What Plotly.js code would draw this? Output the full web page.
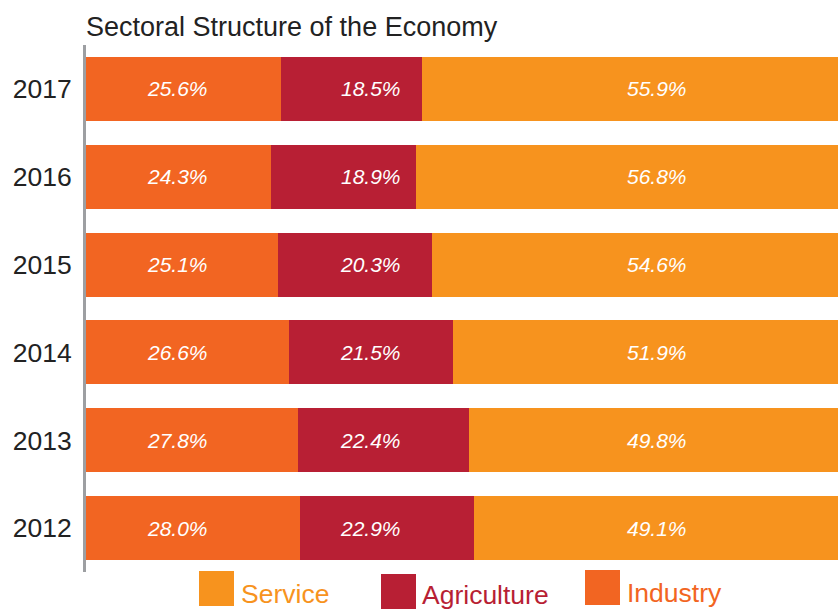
<!DOCTYPE html>
<html>
<head>
<meta charset="utf-8">
<script src="https://cdn.plot.ly/plotly-3.0.1.min.js"></script>
<style>html,body{margin:0;padding:0;background:#fff;}#chart{width:838px;height:609px;}</style>
</head>
<body>
<div id="chart"></div>
<script>
const years = ['2012', '2013', '2014', '2015', '2016', '2017'];
const industry = [28.0, 27.8, 26.6, 25.1, 24.3, 25.6];
const agriculture = [22.9, 22.4, 21.5, 20.3, 18.9, 18.5];
const service = [49.1, 49.8, 51.9, 54.6, 56.8, 55.9];
const seriesNames = ['Industry', 'Agriculture', 'Service'];
const legendOrder = ['Service', 'Agriculture', 'Industry'];
const chartTitle = 'Sectoral Structure of the Economy';

const colors = { Industry: '#F26522', Agriculture: '#B81F34', Service: '#F7931E' };
const values = { Industry: industry, Agriculture: agriculture, Service: service };
const labelX = { Industry: 12.0, Agriculture: 37.3, Service: 74.8 };
const FONT = '"Liberation Sans", Arial, Helvetica, sans-serif';

const traces = seriesNames.map(n => ({
  type: 'bar', orientation: 'h', name: n, y: years, x: values[n],
  marker: { color: colors[n] }, hoverinfo: 'skip', showlegend: false
}));

const annotations = [];
seriesNames.forEach(n => {
  values[n].forEach((v, i) => {
    annotations.push({
      x: labelX[n], y: i, xref: 'x', yref: 'y',
      text: '<i>' + v.toFixed(1) + '%</i>', showarrow: false,
      font: { family: FONT, size: 21, color: '#ffffff' },
      xanchor: 'center', yanchor: 'middle'
    });
  });
});

// manual legend (pixel positions converted to paper coords)
const L = 86, W = 752, T = 45, H = 527;
const px = p => (p - L) / W;
const py = p => (T + H - p) / H;
const legendPos = {
  Service: { sx: 199, sy: 571, ty: 594, tx: 239 },
  Agriculture: { sx: 381, sy: 574, ty: 595, tx: 420 },
  Industry: { sx: 585, sy: 570, ty: 593, tx: 625 }
};
const shapes = [];
legendOrder.forEach(n => {
  const p = legendPos[n];
  shapes.push({
    type: 'rect', xref: 'paper', yref: 'paper',
    x0: px(p.sx), x1: px(p.sx + 35), y0: py(p.sy), y1: py(p.sy + 35),
    fillcolor: colors[n], line: { width: 0 }, layer: 'above'
  });
  annotations.push({
    x: px(p.tx), y: py(p.ty), xref: 'paper', yref: 'paper',
    text: n, showarrow: false, xanchor: 'left', yanchor: 'middle',
    font: { family: FONT, size: 26.5, color: colors[n] }
  });
});

const layout = {
  width: 838, height: 609,
  margin: { l: L, r: 0, t: T, b: 609 - T - H, pad: 0 },
  paper_bgcolor: '#ffffff', plot_bgcolor: '#ffffff',
  barmode: 'stack', bargap: 0.27,
  title: {
    text: chartTitle, x: px(86), xref: 'paper', xanchor: 'left',
    y: 1 - 27 / 609, yref: 'container', yanchor: 'middle',
    font: { family: FONT, size: 27, color: '#222222' }
  },
  xaxis: { range: [0, 98.56], visible: false, fixedrange: true },
  yaxis: {
    type: 'category', categoryorder: 'array', categoryarray: years,
    range: [-0.5, 5.5], showline: true, linecolor: '#9D9FA2', linewidth: 3,
    showgrid: false, zeroline: false, ticks: '', ticklabelstandoff: 6,
    tickfont: { family: FONT, size: 26.5, color: '#222222' }
  },
  showlegend: false,
  annotations: annotations,
  shapes: shapes
};

Plotly.newPlot('chart', traces, layout, { displayModeBar: false, staticPlot: true });
</script>
</body>
</html>
